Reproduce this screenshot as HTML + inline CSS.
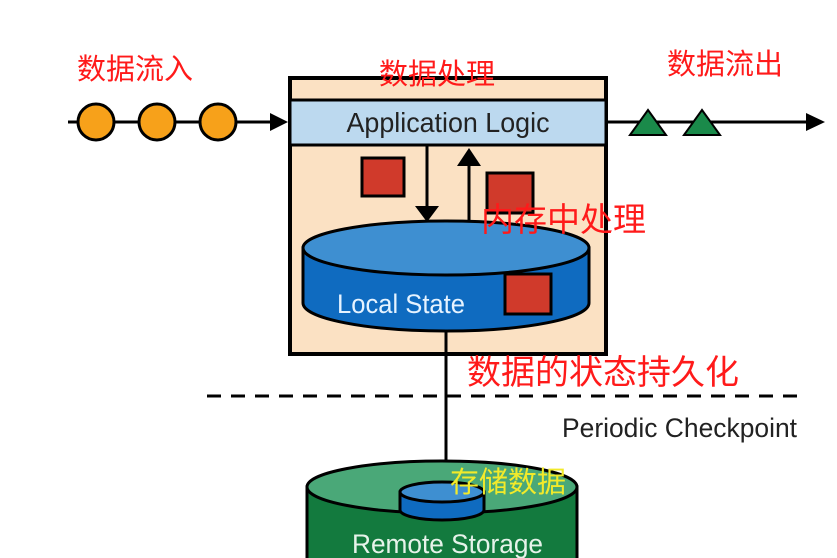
<!DOCTYPE html><html><head><meta charset="utf-8"><style>body{margin:0;background:#fff}svg{display:block}</style></head><body>
<svg width="837" height="558" viewBox="0 0 837 558" xmlns="http://www.w3.org/2000/svg" font-family="'Liberation Sans','Noto Sans CJK SC',sans-serif">
<!-- input -->
<line x1="68" y1="122" x2="280" y2="122" stroke="#000" stroke-width="3"/>
<path d="M270,113L288,122L270,131z"/>
<g fill="#f7a11a" stroke="#000" stroke-width="3"><circle cx="96" cy="122" r="18"/><circle cx="157" cy="122" r="18"/><circle cx="218" cy="122" r="18"/></g>
<!-- output -->
<line x1="606" y1="122" x2="815" y2="122" stroke="#000" stroke-width="3"/>
<path d="M806,113L825,122L806,131z"/>
<g fill="#1a8a4a" stroke="#000" stroke-width="2"><path d="M630,135L648,110L666,135z"/><path d="M684,135L702,110L720,135z"/></g>
<!-- box -->
<rect x="290" y="78" width="316" height="276" fill="#fbe1c3" stroke="#000" stroke-width="4"/>
<rect x="290" y="100" width="316" height="45" fill="#bcd9ef" stroke="#000" stroke-width="3"/>
<text x="448" y="132" text-anchor="middle" font-size="28" fill="#222" textLength="203" lengthAdjust="spacingAndGlyphs">Application Logic</text>
<rect x="362" y="158" width="42" height="38" fill="#d03a2b" stroke="#000" stroke-width="3"/>
<rect x="487" y="173" width="46" height="40" fill="#d03a2b" stroke="#000" stroke-width="3"/>
<line x1="427" y1="145" x2="427" y2="208" stroke="#000" stroke-width="3"/><path d="M415,206L427,222L439,206z"/>
<line x1="469" y1="165" x2="469" y2="225" stroke="#000" stroke-width="3"/><path d="M457,166L469,148L481,166z"/>
<!-- local state cylinder -->
<path d="M303,248L303,303A143,28 0 0 0 589,303L589,248z" fill="#0f6bc0" stroke="#000" stroke-width="3"/>
<ellipse cx="446" cy="248" rx="143" ry="27" fill="#3e8fd1" stroke="#000" stroke-width="3"/>
<text x="337" y="313" font-size="27" fill="#e6f3ff" textLength="128" lengthAdjust="spacingAndGlyphs">Local State</text>
<rect x="505" y="274" width="46" height="40" fill="#d03a2b" stroke="#000" stroke-width="3"/>
<!-- vertical -->
<line x1="446" y1="331" x2="446" y2="465" stroke="#000" stroke-width="3"/>
<path d="M436,462L446,480L456,462z"/>
<line x1="207" y1="396" x2="800" y2="396" stroke="#000" stroke-width="3" stroke-dasharray="14,10"/>
<text x="562" y="437" font-size="27" fill="#222" textLength="235" lengthAdjust="spacingAndGlyphs">Periodic Checkpoint</text>
<!-- remote -->
<path d="M307,487L307,560L577,560L577,487z" fill="#137a3e" stroke="#000" stroke-width="3"/>
<ellipse cx="442" cy="487" rx="135" ry="26" fill="#4aa878" stroke="#000" stroke-width="3"/>
<path d="M400,492L400,510A42,10 0 0 0 484,510L484,492z" fill="#0f6bc0" stroke="#000" stroke-width="3"/>
<ellipse cx="442" cy="492" rx="42" ry="10" fill="#3e8fd1" stroke="#000" stroke-width="3"/>
<text x="352" y="553" font-size="27" fill="#e6f3ea" textLength="191" lengthAdjust="spacingAndGlyphs">Remote Storage</text>
<!-- labels -->
<g fill="#ff1a1a">
<text x="77" y="79" font-size="29">数据流入</text>
<text x="379" y="84" font-size="29">数据处理</text>
<text x="667" y="74" font-size="29">数据流出</text>
<text x="481" y="231" font-size="33">内存中处理</text>
<text x="467" y="384" font-size="34">数据的状态持久化</text>
</g>
<text x="450" y="492" font-size="29" fill="#f2ea2a">存储数据</text>
</svg>
</body></html>
